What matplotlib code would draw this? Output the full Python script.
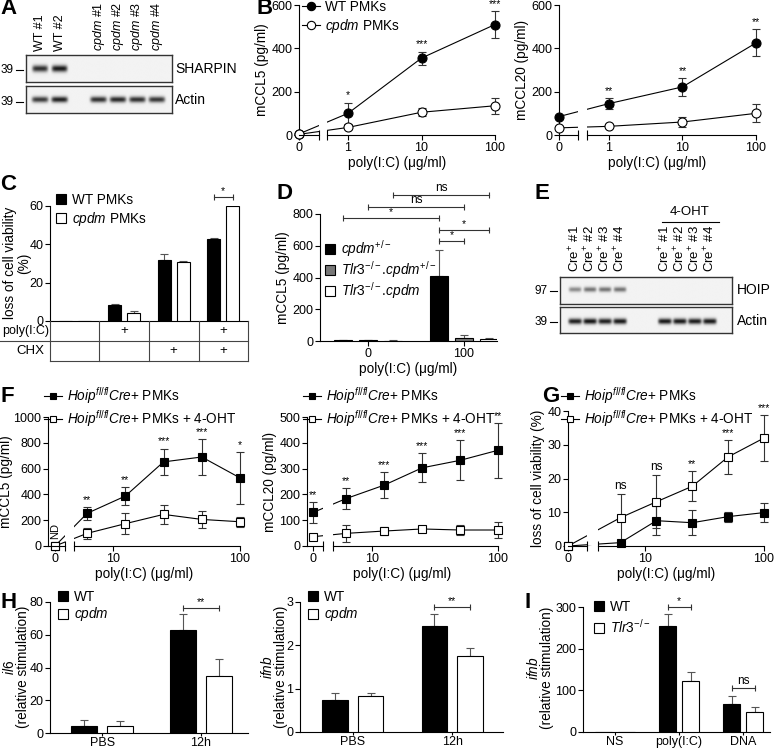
import numpy as np
import matplotlib
matplotlib.use("Agg")
import matplotlib.pyplot as plt
import matplotlib.transforms as mtransforms
from matplotlib.lines import Line2D

W, H = 775, 750

# ---------------- data ----------------
# A: western blot band intensities per lane
A_LANES = ["WT #1", "WT #2", "$\\it{cpdm}$ #1", "$\\it{cpdm}$ #2", "$\\it{cpdm}$ #3", "$\\it{cpdm}$ #4"]
A_SHARPIN = [0.85, 0.95, 0.0, 0.0, 0.0, 0.0]
A_ACTIN = [0.80, 0.92, 0.85, 0.88, 0.85, 0.82]

# B: chemokines after poly(I:C)
B_DOSE = [0, 1, 10, 100]
B_CCL5_WT = [5, 100, 355, 510]
B_CCL5_WT_ERR = [4, 50, 30, 62]
B_CCL5_CPDM = [3, 35, 105, 135]
B_CCL5_CPDM_ERR = [2, 8, 18, 38]
B_CCL5_SIG = ["", "*", "***", "***"]
B_CCL20_WT = [85, 145, 222, 425]
B_CCL20_WT_ERR = [6, 25, 40, 62]
B_CCL20_CPDM = [33, 40, 60, 100]
B_CCL20_CPDM_ERR = [3, 5, 22, 42]
B_CCL20_SIG = ["", "**", "**", "**"]

# C: loss of cell viability
C_WT = [0, 8.5, 32, 43]
C_WT_ERR = [0, 0.3, 2.8, 0.4]
C_CPDM = [0, 4, 31, 60]
C_CPDM_ERR = [0, 1.2, 0.5, 2.5]
C_POLY = ["", "+", "", "+"]
C_CHX = ["", "", "+", "+"]

# D: mCCL5 by genotype
D_GROUPS = ["0", "100"]
D_CPDM_HET = [5, 410]
D_CPDM_HET_ERR = [3, 165]
D_TLR3_HET = [4, 20]
D_TLR3_HET_ERR = [2, 15]
D_TLR3_CPDM = [3, 10]
D_TLR3_CPDM_ERR = [2, 8]
# (series a, group a), (series b, group b), label, level
D_BRACKETS = [((0, 1), (1, 1), "*", 632), ((0, 1), (2, 1), "*", 701),
              ((0, 0), (0, 1), "*", 777), ((1, 0), (1, 1), "ns", 846),
              ((2, 0), (2, 1), "ns", 922)]

# E: HOIP blot
E_LANES = ["Cre$^{+}$ #1", "Cre$^{+}$ #2", "Cre$^{+}$ #3", "Cre$^{+}$ #4"] * 2
E_HOIP = [0.45, 0.55, 0.55, 0.55, 0.0, 0.0, 0.0, 0.0]
E_ACTIN = [0.92, 0.97, 0.92, 0.95, 0.95, 0.95, 0.93, 0.95]

# F / G: Hoip fl/fl Cre+ PMKs +/- 4-OHT
F_DOSE = [0, 6.25, 12.5, 25, 50, 100]
F_CCL5_CRE = [0, 253, 387, 652, 690, 528]
F_CCL5_CRE_ERR = [0, 50, 72, 103, 142, 200]
F_CCL5_OHT = [0, 98, 173, 245, 206, 188]
F_CCL5_OHT_ERR = [0, 45, 80, 72, 67, 38]
F_CCL5_SIG = ["", "**", "**", "***", "***", "*"]
F_CCL20_CRE = [130, 184, 236, 303, 332, 371]
F_CCL20_CRE_ERR = [39, 42, 51, 56, 77, 107]
F_CCL20_OHT = [36, 49, 58, 66, 62, 62]
F_CCL20_OHT_ERR = [0, 32, 14, 10, 19, 32]
F_CCL20_SIG = ["**", "**", "***", "***", "***", "**"]
G_CRE = [0, 1, 7.5, 6.9, 8.7, 9.9]
G_CRE_ERR = [0, 0, 4.3, 3.7, 1.5, 2.7]
G_OHT = [0, 8.4, 13.1, 17.7, 26.4, 32]
G_OHT_ERR = [0, 7.1, 7.9, 4.5, 5.1, 6.8]
G_SIG = ["", "ns", "ns", "**", "***", "***"]

# H / I: relative stimulation
H_GROUPS = ["PBS", "12h"]
H_IL6_WT = [4, 63]
H_IL6_WT_ERR = [4.2, 9.5]
H_IL6_CPDM = [4, 35]
H_IL6_CPDM_ERR = [3.6, 10]
H_IFNB_WT = [0.75, 2.45]
H_IFNB_WT_ERR = [0.15, 0.27]
H_IFNB_CPDM = [0.83, 1.75]
H_IFNB_CPDM_ERR = [0.06, 0.2]
I_GROUPS = ["NS", "poly(I:C)", "DNA"]
I_WT = [0, 255, 68]
I_WT_ERR = [0, 28, 18]
I_TLR3 = [0, 123, 47]
I_TLR3_ERR = [0, 22, 14]

XLAB = "poly(I:C) (\u03bcg/ml)"
HOIP_CRE = "$\\it{Hoip}^{\\it{fl/fl}}\\it{Cre}$+ PMKs"
REL = "(relative stimulation)"

plt.rcParams.update({
    "font.family": ["Liberation Sans", "DejaVu Sans"],
    "font.size": 9,
    "mathtext.fontset": "custom",
    "mathtext.rm": "Liberation Sans",
    "mathtext.it": "Liberation Sans:italic",
    "mathtext.bf": "Liberation Sans:bold",
    "axes.linewidth": 0.8,
    "xtick.major.width": 0.8,
    "ytick.major.width": 0.8,
    "xtick.major.size": 3.5,
    "ytick.major.size": 3.5,
    "xtick.major.pad": 1.2,
    "ytick.major.pad": 1.2,
    "xtick.labelsize": 9,
    "ytick.labelsize": 9,
    "axes.labelsize": 9.8,
    "axes.labelpad": 2,
    "legend.fontsize": 9.8,
})

fig = plt.figure(figsize=(W / 100, H / 100), dpi=100)


def fy(py):
    return 1 - py / H


def add_ax(l, t, r, b):
    return fig.add_axes([l / W, 1 - b / H, (r - l) / W, (b - t) / H])


def prism(ax):
    for s in ("top", "right"):
        ax.spines[s].set_visible(False)


def letter(x, y, s):
    fig.text(x / W, fy(y), s, fontsize=16, fontweight="bold", va="center", ha="left")


def fig_line(x0, x1, y0, y1, color="k"):
    fig.add_artist(Line2D([x0 / W, x1 / W], [fy(y0), fy(y1)], color=color, lw=0.8))


def ylabel2(x1, x2, yc, l1, l2):
    # two-line y label, each line centred on the axis
    fig.text(x1 / W, fy(yc), l1, rotation=90, ha="center", va="center", fontsize=9.8)
    fig.text(x2 / W, fy(yc), l2, rotation=90, ha="center", va="center", fontsize=9.8)


def px_legend(ax, handles, labels, x, y, **kw):
    opts = dict(loc="upper left", bbox_to_anchor=(x / W, fy(y)), bbox_transform=fig.transFigure,
                frameon=False, borderpad=0, borderaxespad=0, handletextpad=0.4, labelspacing=0.25)
    opts.update(kw)
    ax.legend(handles, labels, **opts)


def sq(fc):
    return Line2D([], [], ls="none", marker="s", ms=7, mfc=fc, mec="k", mew=0.8)


def ln(marker, fc, ms):
    return Line2D([], [], color="k", lw=0.8, marker=marker, ms=ms, mfc=fc, mec="k", mew=0.8)


# ---------------- blots ----------------
def blot(ax, slots, intens, xlim, yc, hw, sig):
    xs = np.linspace(xlim[0], xlim[1], 500)
    ys = np.linspace(0, 1, 80)
    X, Y = np.meshgrid(xs, ys)
    img = np.zeros_like(X)
    for s, v in zip(slots, intens):
        img += v * np.exp(-((X - s) / hw) ** 6) * np.exp(-((Y - yc) / sig) ** 2)
    ax.imshow(0.95 - 0.9 * np.clip(img, 0, 1), cmap="gray", vmin=0, vmax=1,
              extent=(xlim[0], xlim[1], 0, 1), aspect="auto", origin="lower",
              interpolation="bilinear")
    ax.set_xlim(xlim)
    ax.set_ylim(0, 1)
    ax.set_xticks([])
    ax.set_yticks([])
    for s in ax.spines.values():
        s.set_color("#333333")
        s.set_linewidth(1.0)


def lane_labels(ax, slots, labels, ybottom, fs):
    tr = mtransforms.blended_transform_factory(ax.transData, fig.transFigure)
    for s, lab in zip(slots, labels):
        ax.text(s, fy(ybottom), lab, transform=tr, rotation=90, ha="center", va="bottom",
                fontsize=fs)


def mw(xr, y, s):
    fig.text(xr / W, fy(y), s, ha="right", va="center", fontsize=8.5)
    fig_line(xr + 2, xr + 9, y, y)


A_SLOTS = [0, 1, 3, 4, 5, 6]
A_XLIM = (-0.72, 6.77)
axA1 = add_ax(26, 55, 172, 82)
axA2 = add_ax(26, 86, 172, 113)
blot(axA1, A_SLOTS, A_SHARPIN, A_XLIM, 0.48, 0.4, 0.12)
blot(axA2, A_SLOTS, A_ACTIN, A_XLIM, 0.5, 0.42, 0.11)
lane_labels(axA1, A_SLOTS, A_LANES, 51, 9)
fig.text(175 / W, fy(69), "SHARPIN", va="center", fontsize=10)
fig.text(175 / W, fy(100), "Actin", va="center", fontsize=10)
mw(14, 70, "39")
mw(14, 102, "39")
letter(0, 9, "A")

E_SLOTS = [0, 1, 2, 3, 6, 7, 8, 9]
E_XLIM = (-1.0, 10.47)
axE1 = add_ax(560, 277, 732, 304)
axE2 = add_ax(560, 307, 732, 333)
blot(axE1, E_SLOTS, E_HOIP, E_XLIM, 0.52, 0.42, 0.09)
blot(axE2, E_SLOTS, E_ACTIN, E_XLIM, 0.45, 0.45, 0.11)
lane_labels(axE1, E_SLOTS, E_LANES, 272, 9.5)
fig.text(737 / W, fy(290), "HOIP", va="center", fontsize=10)
fig.text(737 / W, fy(321), "Actin", va="center", fontsize=10)
fig.text(690 / W, fy(212), "4-OHT", ha="center", va="center", fontsize=9.5)
fig_line(662, 719, 222, 222)
mw(548, 291, "97")
mw(548, 322, "39")
letter(535, 193, "E")


# ---------------- dose-response panels with broken axis ----------------
def dose_pos(d, zero):
    d = np.asarray(d, float)
    return np.where(d > 0, np.log10(np.where(d > 0, d, 1)), zero)


def dose_panel(ax, dose, series, sig, zero, brk, xlim, ylim, yticks, xticks, ylabel, marker, ms,
               labelpad=2):
    prism(ax)
    x = dose_pos(dose, zero)
    tops = np.zeros(len(x))
    for vals, errs, fc in series:
        vals = np.asarray(vals, float)
        errs = np.asarray(errs, float)
        tops = np.maximum(tops, vals + errs)
        ax.plot(x, vals, color="k", lw=0.8, zorder=2, clip_on=False)
        m = errs > 0
        eb = ax.errorbar(x[m], vals[m], yerr=errs[m], fmt="none", ecolor="#333333",
                         elinewidth=0.8, capsize=3, capthick=0.8, zorder=2.6)
        for a in eb.get_children():
            a.set_clip_on(False)
        ax.plot(x, vals, ls="none", marker=marker, ms=ms, mfc=fc, mec="k", mew=0.8,
                zorder=3, clip_on=False)
    ax.axvspan(brk[0], brk[1], ymin=0.006, ymax=1, color="white", zorder=2.5, lw=0)
    for xi, t, s in zip(x, tops, sig):
        if s:
            ax.annotate(s, (xi, t), xytext=(0, 1.5), textcoords="offset points", ha="center",
                        va="bottom", fontsize=8.5 if s == "ns" else 7.5, annotation_clip=False)
    ax.spines["bottom"].set_visible(False)
    tr = ax.get_xaxis_transform()
    ax.plot([xlim[0], brk[0]], [0, 0], transform=tr, color="k", lw=0.8, clip_on=False, zorder=5)
    ax.plot([brk[1], xlim[1]], [0, 0], transform=tr, color="k", lw=0.8, clip_on=False, zorder=5)
    ax.plot([brk[0], brk[1]], [0, 0], transform=tr, ls="none", marker="|", ms=7, mew=0.8,
            color="k", clip_on=False, zorder=5)
    ax.set_xlim(xlim)
    ax.set_ylim(ylim)
    ax.set_yticks(yticks)
    ax.set_xticks(dose_pos(xticks, zero))
    ax.set_xticklabels([str(v) for v in xticks])
    ax.set_ylabel(ylabel, labelpad=labelpad)
    ax.set_xlabel(XLAB)
    return x


axB1 = add_ax(299, 5, 495, 135)
dose_panel(axB1, B_DOSE,
           [(B_CCL5_WT, B_CCL5_WT_ERR, "k"), (B_CCL5_CPDM, B_CCL5_CPDM_ERR, "white")],
           B_CCL5_SIG, -0.667, (-0.395, -0.286), (-0.667, 2.0), (0, 600),
           [0, 200, 400, 600], [0, 1, 10, 100], "mCCL5 (pg/ml)", "o", 6.5)
px_legend(axB1, [ln("o", "k", 6), ln("o", "white", 6)], ["WT PMKs", "$\\it{cpdm}$ PMKs"],
          302, 0, handlelength=1.3, labelspacing=0.2)
letter(256, 9, "B")

axB2 = add_ax(559, 5, 756, 135)
dose_panel(axB2, B_DOSE,
           [(B_CCL20_WT, B_CCL20_WT_ERR, "k"), (B_CCL20_CPDM, B_CCL20_CPDM_ERR, "white")],
           B_CCL20_SIG, -0.68, (-0.42, -0.30), (-0.68, 2.0), (0, 600),
           [0, 200, 400, 600], [0, 1, 10, 100], "mCCL20 (pg/ml)", "o", 6.5)

axF1 = add_ax(48, 417, 240, 546)
xf = dose_panel(axF1, F_DOSE,
                [(F_CCL5_CRE, F_CCL5_CRE_ERR, "k"), (F_CCL5_OHT, F_CCL5_OHT_ERR, "white")],
                F_CCL5_SIG, 0.543, (0.622, 0.693), (0.488, 2.0), (0, 1000),
                [0, 200, 400, 600, 800, 1000], [0, 10, 100], "mCCL5 (pg/ml)", "s", 5.8,
                labelpad=0.5)
axF1.annotate("ND", (xf[0], 0), xytext=(0, 5), textcoords="offset points", rotation=90,
              ha="center", va="bottom", fontsize=8, annotation_clip=False)
px_legend(axF1, [ln("s", "k", 5), ln("s", "white", 5)], [HOIP_CRE, HOIP_CRE + " + 4-OHT"],
          44, 385, handlelength=1.3, labelspacing=0.15)
letter(0, 396, "F")

axF2 = add_ax(307, 417, 498, 546)
dose_panel(axF2, F_DOSE,
           [(F_CCL20_CRE, F_CCL20_CRE_ERR, "k"), (F_CCL20_OHT, F_CCL20_OHT_ERR, "white")],
           F_CCL20_SIG, 0.532, (0.611, 0.69), (0.484, 2.0), (0, 500),
           [0, 100, 200, 300, 400, 500], [0, 10, 100], "mCCL20 (pg/ml)", "s", 5.8)
px_legend(axF2, [ln("s", "k", 5), ln("s", "white", 5)], [HOIP_CRE, HOIP_CRE + " + 4-OHT"],
          303, 385, handlelength=1.3, labelspacing=0.15)

axG = add_ax(568, 411, 764, 546)
dose_panel(axG, F_DOSE,
           [(G_CRE, G_CRE_ERR, "k"), (G_OHT, G_OHT_ERR, "white")],
           G_SIG, 0.355, (0.512, 0.603), (0.355, 2.0), (0, 40),
           [0, 10, 20, 30, 40], [0, 10, 100], "loss of cell viability (%)", "s", 5.8)
px_legend(axG, [ln("s", "k", 5), ln("s", "white", 5)], [HOIP_CRE, HOIP_CRE + " + 4-OHT"],
          561, 385, handlelength=1.3, labelspacing=0.15)
letter(542, 396, "G")


# ---------------- bar panels ----------------
def bar_panel(ax, n, series, offsets, width, xlim, ylim, yticks, xticklabels=None):
    prism(ax)
    x = np.arange(n)
    for (vals, errs, fc), off in zip(series, offsets):
        vals = np.asarray(vals, float)
        errs = np.asarray(errs, float)
        ax.bar(x + off, vals, width, color=fc, edgecolor="k", linewidth=0.8, zorder=3)
        m = errs > 0
        ax.errorbar(x[m] + off, vals[m], yerr=[np.zeros(m.sum()), errs[m]], fmt="none",
                    ecolor="#555555", elinewidth=0.8, capsize=3, capthick=0.8, zorder=2)
    ax.set_xlim(xlim)
    ax.set_ylim(ylim)
    ax.set_yticks(yticks)
    if xticklabels is None:
        ax.set_xticks([])
    else:
        ax.set_xticks(x)
        ax.set_xticklabels(xticklabels)
    return x


def bracket(ax, x1, x2, y, s):
    ax.plot([x1, x2], [y, y], color="#333333", lw=0.8, clip_on=False, zorder=4)
    ax.plot([x1, x2], [y, y], ls="none", marker="|", ms=4, mew=0.8, color="#333333",
            clip_on=False, zorder=4)
    ax.annotate(s, ((x1 + x2) / 2, y), xytext=(0, 0.5), textcoords="offset points", ha="center",
                va="bottom", fontsize=8.5 if s == "ns" else 7.5, annotation_clip=False)


# C
axC = add_ax(50, 206, 248, 321)
xc = bar_panel(axC, 4, [(C_WT, C_WT_ERR, "k"), (C_CPDM, C_CPDM_ERR, "white")],
               [-0.19, 0.19], 0.26, (-0.5, 3.5), (0, 60), [0, 20, 40, 60])
ylabel2(10, 24, 263, "loss of cell viability", "(%)")
bracket(axC, 3 - 0.19, 3 + 0.19, 64.7, "*")
# treatment table under C
for xpx in (50, 99, 149, 199, 248):
    fig_line(xpx, xpx, 321, 361, color="#444444")
fig_line(0, 248, 341, 341, color="#444444")
fig_line(50, 248, 361, 361, color="#444444")
trc = mtransforms.blended_transform_factory(axC.transData, fig.transFigure)
for xi, p, c in zip(xc, C_POLY, C_CHX):
    axC.text(xi, fy(331), p, transform=trc, ha="center", va="center", fontsize=9.5)
    axC.text(xi, fy(351), c, transform=trc, ha="center", va="center", fontsize=9.5)
fig.text(49 / W, fy(331), "poly(I:C)", ha="right", va="center", fontsize=9)
fig.text(30 / W, fy(351), "CHX", ha="center", va="center", fontsize=9.5)
px_legend(axC, [sq("k"), sq("white")], ["WT PMKs", "$\\it{cpdm}$ PMKs"], 56, 193,
          handlelength=0.8, labelspacing=0.2)
letter(0, 184, "C")

# D
axD = add_ax(320, 214, 497, 341)
D_OFF = [-0.26, 0.0, 0.26]
xd = bar_panel(axD, 2, [(D_CPDM_HET, D_CPDM_HET_ERR, "k"), (D_TLR3_HET, D_TLR3_HET_ERR, "#777777"),
                        (D_TLR3_CPDM, D_TLR3_CPDM_ERR, "white")],
               D_OFF, 0.18, (-0.5, 1.344), (0, 800), [0, 200, 400, 600, 800], D_GROUPS)
axD.set_ylabel("mCCL5 (pg/ml)")
axD.set_xlabel(XLAB)
for (sa, ga), (sb, gb), s, lev in D_BRACKETS:
    bracket(axD, xd[ga] + D_OFF[sa], xd[gb] + D_OFF[sb], lev, s)
px_legend(axD, [sq("k"), sq("#777777"), sq("white")],
          ["$\\it{cpdm}^{+/-}$", "$\\it{Tlr3}^{-/-}$.$\\it{cpdm}^{+/-}$", "$\\it{Tlr3}^{-/-}$.$\\it{cpdm}$"],
          325, 238, handlelength=0.8, labelspacing=0.02)
letter(276, 193, "D")

# H
axH1 = add_ax(50, 602, 248, 733)
bar_panel(axH1, 2, [(H_IL6_WT, H_IL6_WT_ERR, "k"), (H_IL6_CPDM, H_IL6_CPDM_ERR, "white")],
          [-0.183, 0.183], 0.264, (-0.528, 1.48), (0, 80), [0, 20, 40, 60, 80], H_GROUPS)
ylabel2(10, 23, 667, "$\\it{il6}$", REL)
bracket(axH1, 1 - 0.183, 1 + 0.183, 76.3, "**")
px_legend(axH1, [sq("k"), sq("white")], ["WT", "$\\it{cpdm}$"], 58, 590, handlelength=0.8,
          labelspacing=0.1)
letter(0, 603, "H")

axH2 = add_ax(300, 602, 503, 732)
bar_panel(axH2, 2, [(H_IFNB_WT, H_IFNB_WT_ERR, "k"), (H_IFNB_CPDM, H_IFNB_CPDM_ERR, "white")],
          [-0.18, 0.18], 0.256, (-0.53, 1.51), (0, 3), [0, 1, 2, 3], H_GROUPS)
ylabel2(268, 281, 667, "$\\it{ifnb}$", REL)
bracket(axH2, 1 - 0.18, 1 + 0.18, 2.89, "**")
px_legend(axH2, [sq("k"), sq("white")], ["WT", "$\\it{cpdm}$"], 308, 590, handlelength=0.8,
          labelspacing=0.1)

axI = add_ax(583, 607, 770, 732)
bar_panel(axI, 3, [(I_WT, I_WT_ERR, "k"), (I_TLR3, I_TLR3_ERR, "white")],
          [-0.18, 0.18], 0.265, (-0.5, 2.42), (0, 300), [0, 100, 200, 300], I_GROUPS)
ylabel2(533, 547, 668, "$\\it{ifnb}$", REL)
bracket(axI, 1 - 0.18, 1 + 0.18, 300, "*")
bracket(axI, 2 - 0.18, 2 + 0.18, 105.6, "ns")
px_legend(axI, [sq("k"), sq("white")], ["WT", "$\\it{Tlr3}^{-/-}$"], 594, 600, handlelength=0.8,
          labelspacing=0.25)
letter(525, 603, "I")

for ax in (axH1, axH2, axI):
    ax.tick_params(axis="x", length=2.5, pad=0.5)

fig.savefig("out.png", dpi=100, facecolor="white")
